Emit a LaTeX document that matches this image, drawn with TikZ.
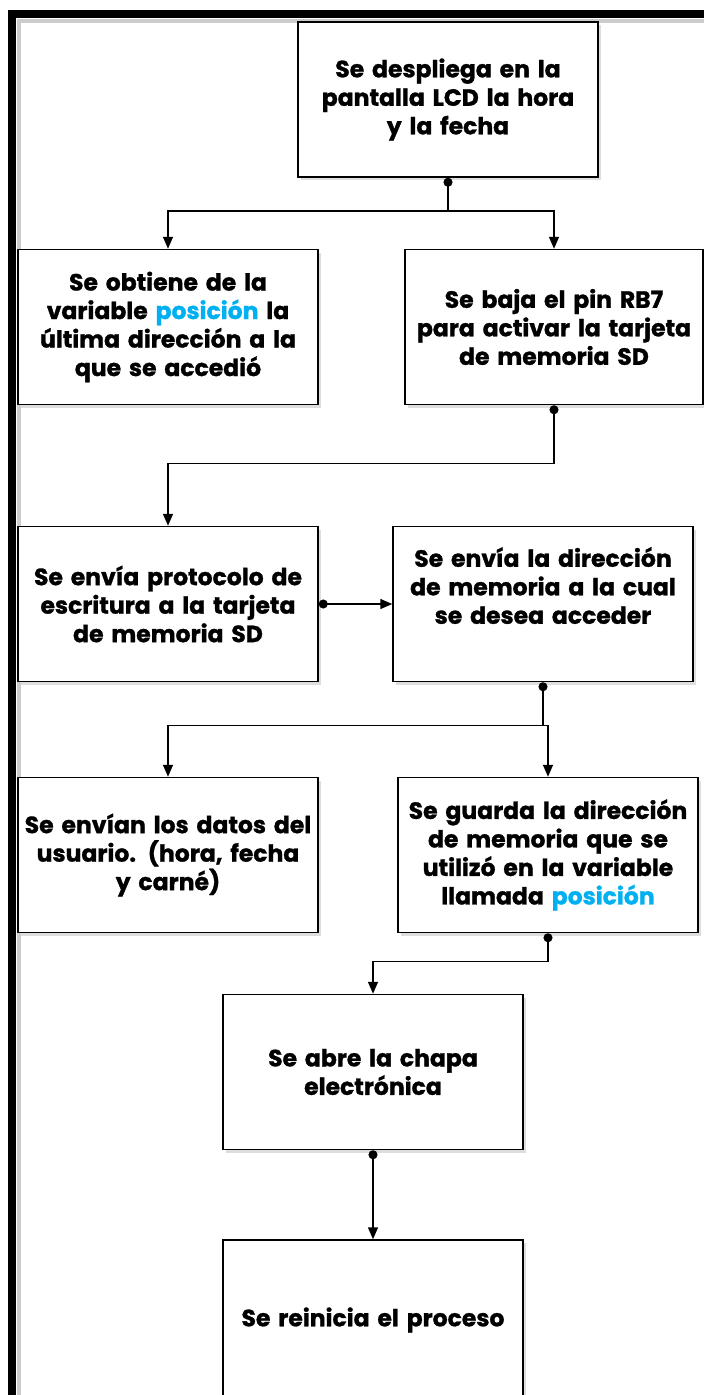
\documentclass[tikz,border=0pt]{standalone}
\usepackage{fontspec}
\setmainfont{Poppins}[BoldFeatures={FakeBold=1.2}]
\usetikzlibrary{arrows.meta,shadows}
\definecolor{azul}{RGB}{0,176,240}
\tikzset{
  caja/.style={draw, line width=1.5pt, fill=white, inner sep=2pt,
    minimum width=300pt, minimum height=155pt, text width=296pt, align=center,
    font=\bfseries\fontsize{23.5}{28.5}\selectfont,
    drop shadow={shadow xshift=3pt, shadow yshift=-3pt, fill=black!25}},
  flecha/.style={line width=1.5pt, {Circle[length=9pt]}-{Triangle[width=10pt,length=12pt]}},
  rama/.style={line width=1.5pt, -{Triangle[width=10pt,length=12pt]}},
}

\begin{document}
\begin{tikzpicture}[x=1pt,y=-1pt]
\clip (0,0) rectangle (704,1395);
\fill[white] (0,0) rectangle (704,1395);
% marco
\draw[black!20, line width=4pt] (19,21) rectangle (730,1420);
\draw[line width=8pt] (12,14) rectangle (730,1420);
% cajas
\node[caja] (lcd) at (448,99.5) {Se despliega en la\\pantalla LCD la hora\\y la fecha};
\node[caja] (posicion) at (168,327) {Se obtiene de la\\variable \textcolor{azul}{posición} la\\última dirección a la\\que se accedió};
\node[caja, minimum width=298pt, text width=294pt] (pin) at (554,327) {Se baja el pin RB7\\para activar la tarjeta\\de memoria SD};
\node[caja] (protocolo) at (168,604) {Se envía protocolo de\\escritura a la tarjeta\\de memoria SD};
\node[caja] (direccion) at (543,604) {Se envía la dirección\\de memoria a la cual\\se desea acceder\\\strut};
\node[caja] (datos) at (168,855) {Se envían los datos del\\usuario. (hora, fecha\\y carné)};
\node[caja] (guarda) at (548,855) {Se guarda la dirección\\de memoria que se\\utilizó en la variable\\llamada \textcolor{azul}{posición}};
\node[caja] (chapa) at (373,1072) {Se abre la chapa\\electrónica};
\node[caja, minimum height=160pt] (reinicio) at (373,1320) {Se reinicia el proceso};
% conexiones
\draw[flecha] (lcd.south) -- ++(0,33) coordinate (j1) -| (posicion.north);
\draw[rama] (j1) -| (pin.north);
\draw[flecha] (pin.south) -- ++(0,58) -| (protocolo.north);
\draw[flecha] (protocolo.east) -- (direccion.west);
\draw[flecha] (direccion.south) -- ++(0,43) coordinate (j2) -| (datos.north);
\draw[rama] (j2) -| (guarda.north);
\draw[flecha] (guarda.south) -- ++(0,28) -| (chapa.north);
\draw[flecha] (chapa.south) -- (reinicio.north);
\end{tikzpicture}
\end{document}
